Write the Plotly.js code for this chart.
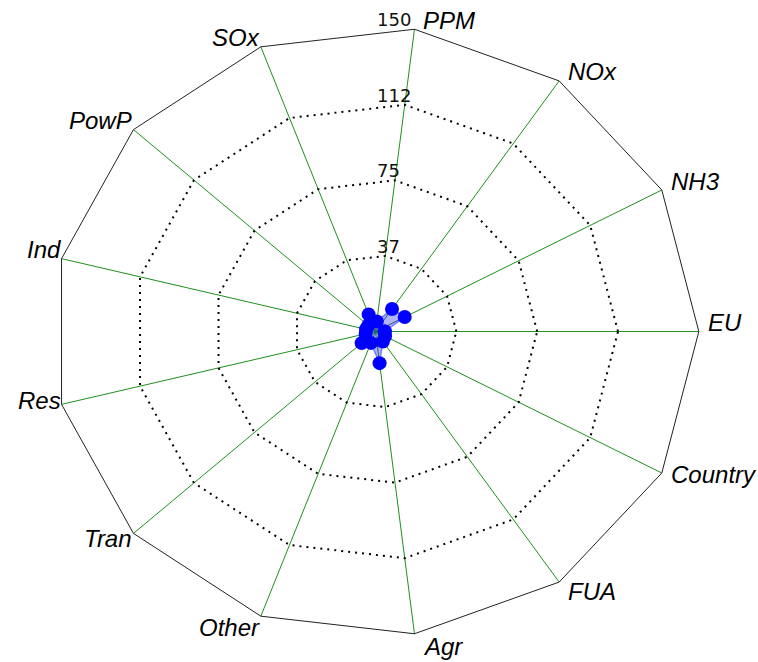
<!DOCTYPE html>
<html>
<head>
<meta charset="utf-8">
<script src="https://cdn.plot.ly/plotly-3.0.1.min.js"></script>
<style>html,body{margin:0;padding:0;background:#fff;}#chart{width:758px;height:662px;}</style>
</head>
<body>
<div id="chart"></div>
<script>
// ---- data ----
const categories = ["EU", "NH3", "NOx", "PPM", "SOx", "PowP", "Ind", "Res", "Tran", "Other", "Agr", "FUA", "Country"];
const values = [4.3, 15.3, 13.5, 5, 9, 4.5, 4.5, 4.7, 8.6, 6, 15.7, 6, 5];
const radialTicks = [37.5, 75, 112.5, 150];
const radialTickLabels = ["37", "75", "112", "150"];
const rMax = 150;

// ---- helpers: polar -> cartesian through the axes ----
const n = categories.length;
const ang = i => (i * 2 * Math.PI) / n;
const px = (r, i) => r * Math.cos(ang(i));
const py = (r, i) => r * Math.sin(ang(i));

const traces = [];

// spokes
const sx = [], sy = [];
categories.forEach((c, i) => { sx.push(0, px(rMax, i), null); sy.push(0, py(rMax, i), null); });
traces.push({x: sx, y: sy, mode: "lines", line: {color: "rgb(30,145,30)", width: 1}, hoverinfo: "skip"});

// rings
radialTicks.forEach(t => {
  const rx = [], ry = [];
  for (let i = 0; i <= n; i++) { rx.push(px(t, i % n)); ry.push(py(t, i % n)); }
  const outer = t === rMax;
  traces.push({x: rx, y: ry, mode: "lines",
    line: outer ? {color: "#222", width: 1} : {color: "#000", width: 2, dash: "2px,5px"},
    hoverinfo: "skip"});
});

// data polygon
const dx = [], dy = [];
for (let i = 0; i <= n; i++) { dx.push(px(values[i % n], i % n)); dy.push(py(values[i % n], i % n)); }
traces.push({x: dx, y: dy, mode: "lines+markers", fill: "toself",
  fillcolor: "rgba(0,0,255,0.3)", line: {color: "rgba(60,60,255,0.6)", width: 1.5},
  marker: {color: "#0000ff", size: 14}, text: categories.concat([categories[0]]), hoverinfo: "text"});

// annotations
const annotations = [];
categories.forEach((c, i) => {
  const co = Math.cos(ang(i)), si = Math.sin(ang(i));
  const right = co > 0.05;
  const ys = si >= 0 ? 9 : 9 + 22 * si;
  annotations.push({x: px(rMax, i), y: py(rMax, i), xref: "x", yref: "y", text: c, showarrow: false,
    xanchor: right ? "left" : "right", yanchor: "middle", xshift: right ? 7 : 1, yshift: ys,
    font: {family: "Liberation Sans, Arial, sans-serif", size: 24, color: "#000", style: "italic"}});
});
const ppm = categories.indexOf("PPM");
radialTicks.forEach((t, k) => {
  annotations.push({x: 0, y: py(t, ppm), xref: "x", yref: "y", text: radialTickLabels[k], showarrow: false,
    xanchor: "left", yanchor: "bottom", xshift: -1, yshift: -3,
    font: {family: "DejaVu Sans, sans-serif", size: 18, color: "#111"}});
});

const layout = {
  width: 758, height: 662,
  margin: {l: 49.8, r: 56.8, t: 25.2, b: 23.8, pad: 0},
  paper_bgcolor: "#fff", plot_bgcolor: "#fff",
  showlegend: false,
  xaxis: {range: [-151, 151], visible: false, fixedrange: true},
  yaxis: {range: [-151, 151], visible: false, fixedrange: true},
  annotations: annotations
};
Plotly.newPlot("chart", traces, layout, {displayModeBar: false, staticPlot: true});
</script>
</body>
</html>
